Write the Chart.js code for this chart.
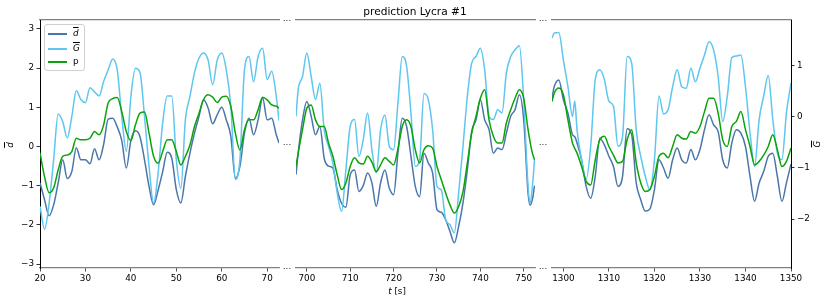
<!DOCTYPE html>
<html><head><meta charset="utf-8">
<script src="https://cdn.jsdelivr.net/npm/chart.js@4.4.1/dist/chart.umd.min.js"></script>
<style>
body{margin:0;background:#fff;width:830px;height:303px;overflow:hidden;position:relative;font-family:'DejaVu Sans',sans-serif;}
canvas{position:absolute;left:0;top:0;}
.tx{position:absolute;color:#000;white-space:nowrap;line-height:12px;}
.ov{font-style:italic;text-decoration:overline;}
#legend{position:absolute;left:44px;top:24px;width:39px;height:45px;border:1px solid #d0d0d0;border-radius:3px;background:rgba(255,255,255,0.85);}
.sw{position:absolute;left:3px;width:19px;height:2px;}
.lb{position:absolute;left:28px;font-size:8.8px;line-height:10px;}
</style></head><body>
<canvas id="c1" width="830" height="303"></canvas>
<canvas id="c2" width="830" height="303"></canvas>
<canvas id="c3" width="830" height="303"></canvas>

<div class="tx" style="left:415px;top:5px;font-size:10.6px;transform:translateX(-50%);">prediction Lycra #1</div>
<div class="tx" style="left:397px;top:285px;font-size:8.8px;transform:translateX(-50%);"><i>t</i> [s]</div>
<div class="tx" style="left:10px;top:145px;font-size:8.8px;transform:translate(-50%,-50%) rotate(-90deg);"><span class="ov">d</span></div>
<div class="tx" style="left:817px;top:144px;font-size:8.8px;transform:translate(-50%,-50%) rotate(-90deg);"><span class="ov">G</span></div>

<div id="legend">
  <div class="sw" id="sw1" style="top:8px;"></div><div class="lb" style="top:3px;"><span class="ov">d</span></div>
  <div class="sw" id="sw2" style="top:23px;"></div><div class="lb" style="top:18px;"><span class="ov">G</span></div>
  <div class="sw" id="sw3" style="top:36px;"></div><div class="lb" style="top:31px;">p</div>
</div>

<script>
// ---- data ----
const xTicks1 = [20,30,40,50,60,70];
const xTicks2 = [700,710,720,730,740,750];
const xTicks3 = [1300,1310,1320,1330,1340,1350];
const dTicks = [-3,-2,-1,0,1,2,3];
const gTicks = [-2,-1,0,1];

const t1 = [20,21,22,23,24,25,26,27,28,29,30,31,32,33,34,35,36,37,38,39,40,41,42,43,44,45,46,47,48,49,50,51,52,53,54,55,56,57,58,59,60,61,62,63,64,65,66,67,68,69,70,71,72,72.6];
const d1 = [-0.93,-1.36,-1.77,-1.49,-0.93,-0.34,-0.82,-0.64,-0.03,-0.34,-0.34,-0.44,-0.06,-0.34,0.05,0.7,0.72,0.5,0.15,-0.55,0.15,0.4,0.25,-0.34,-1.02,-1.49,-1.11,-0.64,-0.15,-0.3,-1.1,-1.44,-0.76,-0.17,0.34,0.77,1.19,0.98,0.58,0.81,1.0,0.68,0.26,-0.81,-0.51,0.34,0.72,0.3,0.68,1.24,0.68,0.72,0.3,0.09];
const G1 = [-1.75,-2.2,-1.7,-0.84,0.05,-0.1,-0.42,0.0,0.5,0.33,0.27,0.56,0.48,0.4,0.68,0.91,1.12,0.91,0.0,-0.68,0.39,0.94,0.86,0.0,-0.97,-1.69,-1.1,-0.12,0.4,0.4,-0.84,-1.4,-0.06,0.39,0.85,1.14,1.24,1.1,0.62,1.1,1.24,0.91,0.2,-1.23,-0.84,0.91,1.17,0.68,1.17,1.33,0.72,0.88,0.39,-0.08];
const p1 = [-0.16,-0.77,-1.18,-1.06,-0.6,-0.25,-0.22,-0.13,0.21,0.17,0.17,0.21,0.38,0.3,0.55,1.11,1.22,1.25,0.89,0.38,0.15,0.55,0.85,0.88,0.34,-0.25,-0.43,-0.13,0.17,0.17,-0.13,-0.47,-0.25,0.04,0.51,0.85,1.2,1.32,1.26,1.12,1.26,1.28,1.02,0.34,-0.09,0.43,0.68,0.68,0.94,1.26,1.19,1.06,1.03,0.98];

const t2 = [697.5,698,699,700,701,702,703,704,705,706,707,708,709,710,711,712,713,714,715,716,717,718,719,720,721,722,723,724,725,726,727,728,729,730,731,732,733,734,735,736,737,738,739,740,741,742,743,744,745,746,747,748,749,750,751,751.5,752,752.5];
const d2 = [-0.72,-0.17,0.68,1.15,0.77,0.3,0.51,-0.3,-0.5,-0.55,-1.1,-1.45,-1.55,-0.72,-0.6,-1.15,-1.0,-0.68,-0.93,-1.53,-0.93,-0.6,-1.06,-1.23,-0.17,0.72,0.51,-0.25,-1.02,-1.28,-0.17,-0.42,-0.68,-1.61,-1.68,-1.87,-2.17,-2.46,-2.04,-1.44,-0.6,0.38,0.68,1.19,0.68,0.43,-0.17,-0.04,-0.08,0.34,0.77,0.94,1.32,0.68,-1.19,-1.5,-1.35,-1.0];
const G2 = [0.0,0.52,0.78,1.24,0.78,0.33,0.65,-0.26,-0.58,-0.91,-1.49,-1.85,-1.04,-0.19,-0.06,-0.78,-0.45,0.07,-0.65,-1.1,-0.26,0.03,-0.58,-0.65,0.26,1.17,0.98,0.07,-0.97,-0.84,0.45,0.33,-0.26,-1.36,-1.43,-2.01,-2.11,-2.27,-1.49,-0.58,0.39,1.04,1.17,1.33,0.91,0.0,-0.06,0.13,0.07,0.85,1.17,1.3,1.38,0.33,-1.36,-1.69,-1.36,-0.84];
const p2 = [-0.51,-0.17,0.43,0.98,1.06,0.68,0.51,0.51,0.09,-0.25,-0.72,-1.1,-0.93,-0.51,-0.29,-0.42,-0.45,-0.25,-0.4,-0.64,-0.47,-0.29,-0.38,-0.47,-0.06,0.51,0.68,0.51,-0.08,-0.42,-0.08,0.02,-0.04,-0.51,-0.85,-1.19,-1.49,-1.7,-1.53,-1.15,-0.42,0.34,0.77,1.23,1.45,0.68,0.26,0.09,0.09,0.6,0.94,1.23,1.45,1.23,0.43,0.1,-0.17,-0.34];

const t3 = [1297.5,1298,1299,1300,1301,1302,1302.5,1303,1304,1305,1306,1307,1308,1309,1310,1311,1312,1313,1314,1315,1316,1317,1318,1319,1320,1321,1322,1323,1324,1325,1326,1327,1328,1329,1330,1331,1332,1333,1334,1335,1336,1337,1338,1339,1340,1341,1342,1343,1344,1345,1346,1347,1348,1349,1350];
const d3 = [1.23,1.53,1.7,1.19,0.85,0.3,0.25,0.09,-0.34,-1.02,-1.32,-0.76,0.21,0.04,-0.25,-0.51,-1.02,-0.76,0.45,0.3,-0.93,-1.36,-1.65,-1.6,-1.1,-0.34,-0.55,-0.81,-0.34,-0.04,-0.34,-0.42,-0.08,-0.34,-0.08,0.43,0.81,0.55,0.38,-0.34,-0.55,0.09,0.43,0.34,0.0,-0.76,-1.4,-0.93,-0.64,-0.25,-0.17,-0.76,-1.4,-0.93,-0.45];
const G3 = [1.53,1.63,1.64,1.1,0.58,0.0,0.3,-0.26,-0.84,-1.23,-0.58,0.72,0.91,0.72,0.3,0.2,-0.58,-0.39,1.17,1.04,-0.26,-0.78,-1.17,-1.43,-0.84,0.4,0.05,0.13,0.58,0.91,0.58,0.55,0.94,0.68,0.94,1.2,1.46,1.3,0.78,-0.1,0.39,1.15,1.18,1.2,0.58,-0.32,-0.97,-0.06,0.4,0.8,-0.06,-0.71,-0.84,0.07,0.65];
const p3 = [1.15,1.36,1.49,1.32,0.68,0.09,-0.05,-0.17,-0.51,-0.89,-0.98,-0.34,0.17,0.26,0.0,-0.22,-0.42,-0.38,0.17,0.43,-0.42,-0.93,-1.15,-1.1,-0.76,-0.25,-0.17,-0.29,0.0,0.3,0.21,0.19,0.38,0.34,0.51,0.89,1.23,1.23,0.85,0.17,0.0,0.51,0.64,0.89,0.43,0.0,-0.47,-0.38,-0.22,0.0,0.3,-0.08,-0.51,-0.38,-0.04];

// ---- style ----
const C_D = '#4a76aa', C_G = '#5ec6ef', C_P = '#0aa30a';
document.getElementById('sw1').style.background = C_D;
document.getElementById('sw2').style.background = C_G;
document.getElementById('sw3').style.background = C_P;

Chart.defaults.font.family = "'DejaVu Sans', sans-serif";
Chart.defaults.font.size = 8.8;
Chart.defaults.color = '#000';

const fmt = v => (v < 0 ? '\u2212' + Math.abs(v) : String(v));
const pts = (t, v) => t.map((x, i) => ({x: x, y: v[i]}));

const dotsPlugin = {
  id: 'dots',
  afterDraw(chart) {
    const c = chart.ctx;
    c.save();
    c.fillStyle = '#222';
    c.font = "8.8px 'DejaVu Sans'";
    c.textAlign = 'center';
    c.textBaseline = 'alphabetic';
    for (const x of [287, 543]) for (const y of [20.5, 144.5, 269]) c.fillText('...', x, y);
    c.restore();
  }
};

function makeChart(id, t, d, G, p, xmin, xmax, xticks, pad, showLeft, showRight, plugins) {
  const line = (data, color, axis, order) => ({
    data: pts(t, data), borderColor: color, borderWidth: 1.5, pointRadius: 0,
    yAxisID: axis, xAxisID: 'x', cubicInterpolationMode: 'monotone', fill: false, order: order
  });
  return new Chart(document.getElementById(id), {
    type: 'line',
    data: { datasets: [ line(d, C_D, 'y', 3), line(G, C_G, 'g', 2), line(p, C_P, 'y', 1) ] },
    options: {
      responsive: false, animation: false, devicePixelRatio: 1,
      layout: { padding: pad },
      plugins: { legend: { display: false }, tooltip: { enabled: false } },
      scales: {
        x: {
          type: 'linear', position: 'bottom', min: xmin, max: xmax,
          afterBuildTicks: s => { s.ticks = xticks.map(v => ({value: v})); },
          afterFit: s => { s.height = 35; },
          ticks: { callback: fmt, padding: 2, maxRotation: 0, autoSkip: false, color: '#000' },
          grid: { display: true, drawOnChartArea: false, drawTicks: true, tickLength: 3.5, color: '#222', lineWidth: 0.8 },
          border: { display: true, color: '#808080', width: 1.2 }
        },
        xt: {
          type: 'linear', position: 'top', min: xmin, max: xmax,
          afterFit: s => { s.height = 0; },
          ticks: { display: false },
          grid: { display: false, drawTicks: false },
          border: { display: true, color: '#808080', width: 1.2 }
        },
        y: {
          type: 'linear', position: 'left', min: -3.102, max: 3.229, display: showLeft,
          afterBuildTicks: s => { s.ticks = dTicks.map(v => ({value: v})); },
          afterFit: s => { s.width = showLeft ? 40 : 0; },
          ticks: { callback: fmt, padding: 2.5, color: '#000' },
          grid: { display: true, drawOnChartArea: false, drawTicks: true, tickLength: 3.5, color: '#000', lineWidth: 0.8 },
          border: { display: true, color: '#000', width: 1 }
        },
        g: {
          type: 'linear', position: 'right', min: -2.955, max: 1.882, display: showRight,
          afterBuildTicks: s => { s.ticks = gTicks.map(v => ({value: v})); },
          afterFit: s => { s.width = showRight ? 39 : 0; },
          ticks: { callback: fmt, padding: 2.5, color: '#000' },
          grid: { display: true, drawOnChartArea: false, drawTicks: true, tickLength: 3.5, color: '#000', lineWidth: 0.8 },
          border: { display: true, color: '#000', width: 1 }
        }
      }
    },
    plugins: plugins || []
  });
}

makeChart('c1', t1, d1, G1, p1, 20, 72.6, xTicks1, {left: 0, right: 551, top: 20, bottom: 0}, true, false, [dotsPlugin]);
makeChart('c2', t2, d2, G2, p2, 697.5, 752.6, xTicks2, {left: 296, right: 295, top: 20, bottom: 0}, false, false);
makeChart('c3', t3, d3, G3, p3, 1297.5, 1350, xTicks3, {left: 552, right: 0, top: 20, bottom: 0}, false, true);
</script>
</body></html>
